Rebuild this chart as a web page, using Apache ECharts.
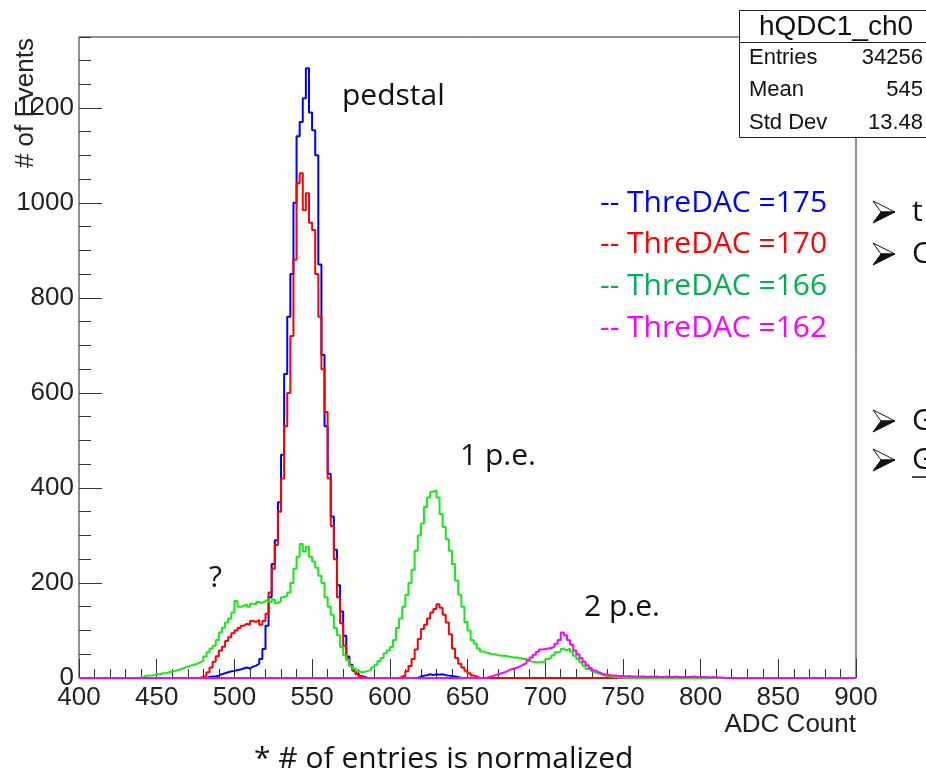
<!DOCTYPE html>
<html>
<head>
<meta charset="utf-8">
<script src="https://cdn.jsdelivr.net/npm/echarts@6/dist/echarts.min.js"></script>
<style>
  html, body { margin: 0; padding: 0; background: #fff; }
  #chart { width: 926px; height: 773px; }
</style>
</head>
<body>
<div id="chart"></div>
<script>
// ADC spectra, 2-count bins; each array starts at its own first bin edge
const binWidth = 2;
const xRange = [400, 900];
const yMax = 1349;
const xTickStep = 50;
const yTickStep = 200;

const start175 = 480;
const counts175 = [
  0, 2, 3, 3, 5, 8, 10, 12, 14, 15,
  17, 18, 20, 22, 20, 24, 26, 30, 40, 61,
  110, 170, 240, 290, 370, 470, 640, 760, 850, 1000,
  1140, 1170, 1220, 1283, 1190, 1153, 1100, 870, 680, 530,
  430, 340, 270, 195, 140, 89, 45, 28, 16, 9,
  4, 2, 0, 0, 0, 0, 0, 0, 0, 0,
  0, 0, 0, 0, 0, 0, 0, 0, 0, 3,
  5, 6, 8, 6, 8, 7, 8, 6, 5, 4,
  3, 2, 0, 0, 0
];

const start170 = 460;
const counts170 = [
  0, 0, 0, 0, 0, 0, 0, 0, 0, 2,
  5, 12, 22, 34, 46, 58, 66, 78, 86, 94,
  100, 105, 110, 114, 112, 120, 118, 122, 112, 120,
  135, 180, 230, 280, 350, 420, 530, 600, 720, 880,
  1041, 1062, 985, 1020, 958, 943, 850, 760, 650, 560,
  420, 320, 250, 170, 115, 68, 40, 26, 15, 8,
  3, 0, 0, 0, 0, 0, 0, 0, 0, 0,
  0, 0, 0, 3, 6, 14, 25, 40, 60, 82,
  103, 112, 125, 138, 145, 155, 148, 133, 117, 92,
  62, 42, 30, 22, 15, 10, 5, 3, 0, 0
];

const start166 = 440;
const counts166 = [
  3, 5, 5, 6, 8, 8, 10, 10, 12, 13,
  15, 17, 19, 22, 24, 26, 28, 30, 33, 36,
  45, 54, 62, 68, 80, 96, 106, 117, 125, 138,
  162, 150, 152, 155, 150, 156, 155, 160, 158, 162,
  166, 160, 165, 158, 162, 170, 173, 180, 200, 230,
  255, 282, 266, 276, 255, 245, 232, 215, 200, 170,
  150, 133, 105, 90, 65, 48, 38, 25, 20, 15,
  12, 13, 15, 17, 22, 28, 35, 42, 52, 58,
  65, 80, 105, 125, 150, 175, 200, 228, 268, 300,
  325, 360, 380, 392, 395, 380, 345, 318, 292, 268,
  240, 205, 175, 150, 118, 100, 80, 72, 62, 56,
  54, 52, 50, 50, 48, 47, 47, 46, 44, 43,
  43, 42, 40, 40, 36, 34, 33, 33, 33, 35,
  40, 43, 48, 54, 56, 61, 58, 62, 55, 47,
  40, 33, 26, 19, 15, 12, 10, 8, 5, 4,
  3, 2, 2, 1, 1, 0, 0, 0, 0, 0
];

const start162 = 660;
const counts162 = [
  0, 2, 4, 6, 8, 10, 12, 15, 18, 20,
  22, 25, 28, 32, 37, 43, 49, 55, 60, 61,
  62, 63, 66, 72, 80, 96, 90, 80, 70, 58,
  50, 42, 34, 27, 21, 16, 13, 10, 8, 7,
  6, 5, 5, 4, 4, 3, 4, 3, 3, 3,
  3, 3, 2, 3, 2, 3, 2, 2, 3, 2,
  2, 3, 2, 2, 2, 2, 2, 3, 2, 2,
  2, 2, 1, 2, 1, 1, 1, 0, 0, 0
];

const legendLabels = ['-- ThreDAC =175', '-- ThreDAC =170', '-- ThreDAC =166', '-- ThreDAC =162'];
const lineColors = ['#0000ff', '#ff0000', '#16ea16', '#ff00ff'];
const legendColors = ['#0000ff', '#ff0000', '#00b050', '#ff00ff'];

const statsTitle = 'hQDC1_ch0';
const statsRows = [['Entries', '34256'], ['Mean', '545'], ['Std Dev', '13.48']];

// turn bin counts into step-line points spanning the whole axis
function histPoints(start, counts) {
  const pts = [[xRange[0], 0]];
  counts.forEach((c, i) => pts.push([start + i * binWidth, c]));
  pts.push([start + counts.length * binWidth, 0]);
  pts.push([xRange[1], 0]);
  return pts;
}

const histograms = [
  histPoints(start175, counts175),
  histPoints(start170, counts170),
  histPoints(start166, counts166),
  histPoints(start162, counts162)
];

const rootFont = '"Liberation Sans", Arial, sans-serif';
const slideFont = '"Open Sans", "Noto Sans", sans-serif';

function txt(x, y, text, size, family, fill, align, extra) {
  return Object.assign({
    type: 'text', x: x, y: y, z: 100,
    style: {
      text: text, font: size + 'px ' + family, fill: fill,
      align: align, verticalAlign: 'middle',
      textAlign: align, textVerticalAlign: 'middle'
    }
  }, extra || {});
}

const graphics = [];
// y-axis title
graphics.push(txt(26, 38, '# of Events', 26, rootFont, '#222', 'right', { rotation: Math.PI / 2 }));
// x-axis title
graphics.push(txt(856, 725, 'ADC Count', 26, rootFont, '#222', 'right'));
// peak annotations
graphics.push(txt(342, 96, 'pedstal', 30, slideFont, '#111', 'left'));
graphics.push(txt(460, 456, '1 p.e.', 30, slideFont, '#111', 'left'));
graphics.push(txt(584, 607, '2 p.e.', 30, slideFont, '#111', 'left'));
graphics.push(txt(209, 578, '?', 30, slideFont, '#111', 'left'));
// legend lines
const legendY = [203, 244, 286, 328];
legendLabels.forEach((t, i) => graphics.push(txt(600, legendY[i], t, 30, slideFont, legendColors[i], 'left')));
// footnote
graphics.push(txt(254, 759, '* # of entries is normalized', 30, slideFont, '#111', 'left'));
// stats box
graphics.push({ type: 'rect', z: 90, shape: { x: 739.5, y: 10.5, width: 220, height: 127 },
  style: { fill: '#fff', stroke: '#222', lineWidth: 1 } });
graphics.push({ type: 'line', z: 91, shape: { x1: 739.5, y1: 42.5, x2: 926, y2: 42.5 },
  style: { stroke: '#222', lineWidth: 1 } });
graphics.push(txt(836, 27, statsTitle, 28, rootFont, '#111', 'center'));
const statsY = [58, 90, 123];
statsRows.forEach((r, i) => {
  graphics.push(txt(749, statsY[i], r[0], 22, rootFont, '#111', 'left'));
  graphics.push(txt(923, statsY[i], r[1], 22, rootFont, '#111', 'right'));
});
// bullet points at the right edge: arrowhead made of a light upper half and a dark lower half
const bulletY = [212, 254, 421, 460];
const bulletText = ['t', 'C', 'G', 'G'];
bulletY.forEach((y, i) => {
  graphics.push({ type: 'polygon', z: 100,
    shape: { points: [[873, y - 11], [895, y], [881, y]] },
    style: { fill: '#fff', stroke: '#111', lineWidth: 1 } });
  graphics.push({ type: 'polygon', z: 100,
    shape: { points: [[881, y], [895, y], [873, y + 11]] },
    style: { fill: '#111', stroke: '#111', lineWidth: 1 } });
  graphics.push(txt(912, y, bulletText[i], 30, slideFont, '#111', 'left'));
});
graphics.push({ type: 'line', z: 100, shape: { x1: 912, y1: 477, x2: 926, y2: 477 },
  style: { stroke: '#111', lineWidth: 1.5 } });

const plainNumber = v => String(v);

const chart = echarts.init(document.getElementById('chart'), null, { renderer: 'canvas' });
chart.setOption({
  animation: false,
  backgroundColor: '#fff',
  grid: { left: 79, right: 70, top: 37, bottom: 95, show: true, borderColor: '#222', borderWidth: 1, backgroundColor: 'transparent' },
  xAxis: {
    type: 'value', min: xRange[0], max: xRange[1], interval: xTickStep,
    axisLine: { show: false },
    axisTick: { show: true, inside: true, length: 19, lineStyle: { color: '#333', width: 1 } },
    minorTick: { show: true, splitNumber: 5, length: 9, lineStyle: { color: '#333', width: 1 } },
    axisLabel: { margin: 7, fontSize: 26, fontFamily: 'Liberation Sans', color: '#222', formatter: plainNumber },
    splitLine: { show: false }, minorSplitLine: { show: false }
  },
  yAxis: [
    {
      type: 'value', min: 0, max: yMax, interval: yTickStep, position: 'left',
      axisLine: { show: false },
      axisTick: { show: true, inside: true, length: 23, lineStyle: { color: '#333', width: 1 } },
      axisLabel: { margin: 5, fontSize: 26, fontFamily: 'Liberation Sans', color: '#222', showMaxLabel: false, formatter: plainNumber },
      splitLine: { show: false }
    },
    {
      type: 'value', min: 0, max: yMax, interval: 50, position: 'left',
      axisLine: { show: false },
      axisTick: { show: true, inside: true, length: 12, lineStyle: { color: '#333', width: 1 } },
      axisLabel: { show: false },
      splitLine: { show: false }
    }
  ],
  series: histograms.map((pts, i) => ({
    type: 'line', name: legendLabels[i], data: pts, step: 'end',
    yAxisIndex: 0, symbol: 'none', z: 2 + i,
    lineStyle: { color: lineColors[i], width: 2 }
  })),
  graphic: graphics
});
</script>
</body>
</html>
